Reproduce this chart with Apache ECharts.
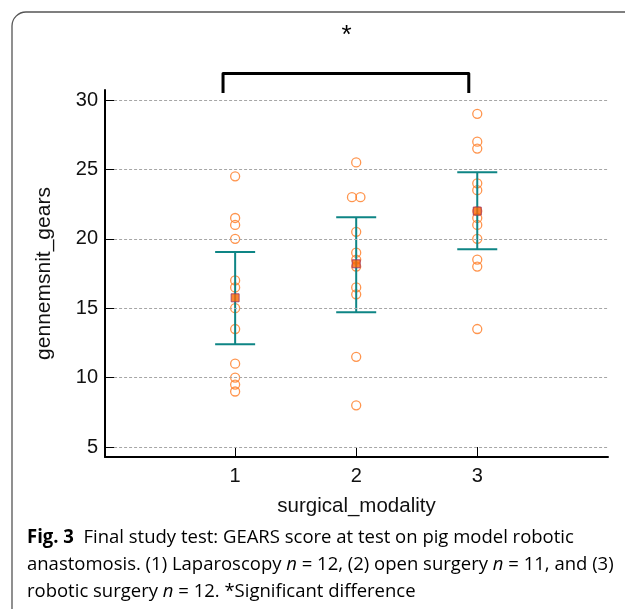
<!DOCTYPE html>
<html><head><meta charset="utf-8">
<script src="https://cdn.jsdelivr.net/npm/echarts@6/dist/echarts.min.js"></script>
<style>html,body{margin:0;padding:0;background:#fff}#c{width:625px;height:609px}</style>
</head><body><div id="c"></div>
<script>
// ---- data ----
const categories = [1, 2, 3];
const laparoscopy = [24.5, 21.5, 21, 20, 17, 16.5, 15, 13.5, 11, 10, 9.5, 9];
const openSurgery = [25.5, 23, 23, 20.5, 19, 18.5, 18, 16.5, 16, 11.5, 8];
const robotic = [29, 27, 26.5, 24, 23.5, 22, 21.5, 21, 20, 18.5, 18, 13.5];
const means = [15.75, 18.2, 22.0];
const ciLow = [12.4, 14.7, 19.25];
const ciHigh = [19.05, 21.55, 24.8];
const yTicks = [5, 10, 15, 20, 25, 30];
const xTicks = [1, 2, 3];
const groups = [laparoscopy, openSurgery, robotic];

// spread identical values side by side
const pts = [];
groups.forEach((vals, gi) => {
  const seen = {};
  vals.forEach(v => { seen[v] = (seen[v] || 0) + 1; });
  const idx = {};
  vals.forEach(v => {
    const n = seen[v]; idx[v] = (idx[v] || 0);
    const off = n > 1 ? (idx[v] - (n - 1) / 2) * 0.07 : 0;
    idx[v]++;
    pts.push([categories[gi] + off, v]);
  });
});

const chart = echarts.init(document.getElementById('c'), null, {renderer: 'canvas'});

// caption scaling
const cv = document.createElement('canvas').getContext('2d');
const capFont = '"Open Sans", "Noto Sans", sans-serif';
cv.font = '19px ' + capFont;
const line2 = 'anastomosis. (1) Laparoscopy n = 12, (2) open surgery n = 11, and (3)';
const w2 = cv.measureText(line2).width;
const sx = 588 / w2;

const rich = {
  b: {fontFamily: capFont, fontSize: 19, fontWeight: 'bold', color: '#111'},
  r: {fontFamily: capFont, fontSize: 19, color: '#333'},
  i: {fontFamily: capFont, fontSize: 19, fontStyle: 'italic', color: '#333'}
};
const axFont = 'Liberation Sans, Arial';

chart.setOption({
  animation: false,
  backgroundColor: '#fff',
  grid: {left: 105, right: 17, top: 90, bottom: 152},
  xAxis: {
    type: 'value', min: -0.075, max: 4.08,
    name: 'surgical_modality', nameLocation: 'middle', nameGap: 39,
    nameTextStyle: {fontFamily: axFont, fontSize: 20.5, color: '#111'},
    axisLine: {show: true, onZero: false, lineStyle: {color: '#000', width: 2}},
    axisTick: {show: true, inside: true, length: 10, customValues: xTicks, lineStyle: {color: '#000', width: 1}},
    axisLabel: {customValues: xTicks, margin: 9, fontFamily: axFont, fontSize: 20, color: '#111'},
    splitLine: {show: false}
  },
  yAxis: {
    type: 'value', min: 4.28, max: 30.72,
    name: 'gennemsnit_gears', nameLocation: 'middle', nameGap: 50,
    nameTextStyle: {fontFamily: axFont, fontSize: 21, color: '#111'},
    axisLine: {show: true, onZero: false, lineStyle: {color: '#000', width: 2}},
    axisTick: {show: true, inside: true, length: 10, customValues: yTicks, lineStyle: {color: '#000', width: 1}},
    axisLabel: {customValues: yTicks, margin: 7, fontFamily: axFont, fontSize: 20, color: '#111'},
    splitLine: {show: false}
  },
  graphic: [
    {type: 'rect', shape: {x: 12, y: 12, width: 700, height: 700, r: 14}, style: {fill: 'none', stroke: '#555', lineWidth: 1.3}, silent: true},
    {type: 'group', x: 27, y: 528, scaleX: sx, scaleY: 1, children: [
      {type: 'text', x: 0, y: 0, style: {text: '{b|Fig. 3}{r|  Final study test: GEARS score at test on pig model robotic}', rich: rich, fontFamily: capFont, fontSize: 19}},
      {type: 'text', x: 0, y: 27, style: {text: '{r|anastomosis. (1) Laparoscopy }{i|n}{r| = 12, (2) open surgery }{i|n}{r| = 11, and (3)}', rich: rich, fontFamily: capFont, fontSize: 19}},
      {type: 'text', x: 0, y: 54, style: {text: '{r|robotic surgery }{i|n}{r| = 12. *Significant difference}', rich: rich, fontFamily: capFont, fontSize: 19}}
    ]}
  ],
  series: [
    {
      type: 'line', silent: true, symbol: 'none', z: 1,
      data: [],
      markLine: {
        silent: true, symbol: 'none', label: {show: false},
        lineStyle: {color: '#a6a6a6', type: [3, 2], width: 1},
        data: yTicks.map(t => [{coord: [0.0, t]}, {coord: [4.08, t]}])
      }
    },
    {
      type: 'scatter', z: 3,
      symbol: 'circle', symbolSize: 9,
      itemStyle: {color: 'rgba(0,0,0,0)', borderColor: '#ff7a22', borderWidth: 1.3},
      data: pts
    },
    {
      type: 'custom', z: 4,
      renderItem: function (params, api) {
        const x = api.value(0);
        const lo = api.coord([x, api.value(1)]);
        const hi = api.coord([x, api.value(2)]);
        const hw = 20;
        const st = {stroke: '#0e8585', lineWidth: 2};
        return {type: 'group', children: [
          {type: 'line', shape: {x1: lo[0], y1: lo[1], x2: hi[0], y2: hi[1]}, style: st},
          {type: 'line', shape: {x1: lo[0] - hw, y1: lo[1], x2: lo[0] + hw, y2: lo[1]}, style: st},
          {type: 'line', shape: {x1: hi[0] - hw, y1: hi[1], x2: hi[0] + hw, y2: hi[1]}, style: st}
        ]};
      },
      data: categories.map((c, i) => [c, ciLow[i], ciHigh[i]])
    },
    {
      type: 'scatter', z: 5, symbol: 'rect', symbolSize: 8,
      itemStyle: {color: '#ff6600', borderColor: '#993366', borderWidth: 1},
      data: categories.map((c, i) => [c, means[i]])
    },
    {
      type: 'custom', z: 6, clip: false,
      renderItem: function (params, api) {
        const a = api.coord([0.9, 30.5]);
        const b = api.coord([0.9, 31.9]);
        const c = api.coord([2.93, 31.9]);
        const d = api.coord([2.93, 30.5]);
        const s = api.coord([1.92, 34.6]);
        return {type: 'group', children: [
          {type: 'polyline', shape: {points: [a, b, c, d]}, style: {stroke: '#000', lineWidth: 3, fill: 'none', lineJoin: 'round'}},
          {type: 'text', x: s[0], y: s[1], style: {text: '*', fontFamily: axFont, fontSize: 26, fill: '#000', align: 'center', verticalAlign: 'middle'}}
        ]};
      },
      data: [[0]]
    }
  ]
});
</script></body></html>
